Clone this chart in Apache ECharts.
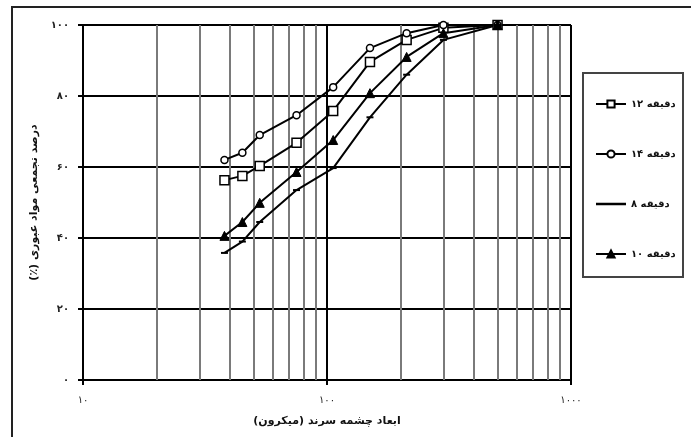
<!DOCTYPE html>
<html dir="ltr">
<head>
<meta charset="utf-8">
<script src="https://cdn.jsdelivr.net/npm/echarts@6/dist/echarts.min.js"></script>
<style>
  html, body { margin: 0; padding: 0; background: #fff; }
  #chart { width: 691px; height: 437px; }
</style>
</head>
<body>
<div id="chart"></div>
<script>
// Sieve opening sizes (microns) and cumulative passing percentages per grinding time
const sieveSizes = [38, 45, 53, 75, 106, 150, 212, 300, 500];
const min12 = [56.3, 57.5, 60.3, 66.8, 75.8, 89.6, 95.8, 99.2, 100];
const min14 = [62.0, 64.0, 69.0, 74.6, 82.5, 93.5, 97.7, 100, 100];
const min8  = [35.8, 39.0, 44.5, 53.5, 59.7, 74.0, 86.0, 95.8, 100];
const min10 = [40.6, 44.5, 49.9, 58.6, 67.6, 80.8, 91.0, 97.7, 100];

const seriesNames = ['دقیقه ۱۲', 'دقیقه ۱۴', 'دقیقه ۸', 'دقیقه ۱۰'];

// Axis tick labels (Persian digits)
const yTickValues = [0, 20, 40, 60, 80, 100];
const yTickLabels = ['۰', '۲۰', '۴۰', '۶۰', '۸۰', '۱۰۰'];
const xTickValues = [10, 100, 1000];
const xTickLabels = ['۱۰', '۱۰۰', '۱۰۰۰'];
// Intermediate decade lines of the logarithmic grid
const xMinorGrid = [20, 30, 40, 50, 60, 70, 80, 90, 200, 300, 400, 500, 600, 700, 800, 900];

// Right-to-left marks keep the parentheses on the correct side
const RLM = '\u200F';
const xAxisTitle = RLM + 'ابعاد چشمه سرند (میکرون)' + RLM;
const yAxisTitle = RLM + 'درصد تجمعی مواد عبوری (٪)' + RLM;

const FONT = 'DejaVu Sans';

// Plain thick bar used as the legend key of the marker-less series
const PLAIN_LINE_ICON = 'path://M0,0L0.01,0Z M0,3.3L30,3.3L30,5.7L0,5.7Z M0,9L0.01,9Z';

function pairs(ys) {
  return sieveSizes.map((x, i) => [x, ys[i]]);
}

const lineBase = {
  type: 'line',
  showAllSymbol: true,
  lineStyle: { color: '#000', width: 2 },
  z: 3
};

const chart = echarts.init(document.getElementById('chart'), null, { renderer: 'canvas' });

chart.setOption({
  animation: false,
  backgroundColor: '#fff',
  textStyle: { fontFamily: FONT },
  grid: { left: 83, top: 25, width: 488, height: 355, containLabel: false },
  xAxis: {
    type: 'log',
    logBase: 10,
    min: 10,
    max: 1000,
    name: xAxisTitle,
    nameLocation: 'middle',
    nameGap: 36,
    nameTextStyle: { fontFamily: FONT, fontSize: 11, fontWeight: 'bold', color: '#111' },
    axisLine: { show: true, lineStyle: { color: '#000', width: 2 } },
    axisTick: { show: true, length: 5, lineStyle: { color: '#000', width: 2 } },
    axisLabel: {
      fontFamily: FONT, fontSize: 10, color: '#222', margin: 15,
      formatter: v => {
        const i = xTickValues.findIndex(t => Math.abs(t - v) < 1e-6 * t);
        return i >= 0 ? xTickLabels[i] : '';
      }
    },
    splitLine: { show: true, lineStyle: { color: '#000', width: 2 } }
  },
  yAxis: {
    type: 'value',
    min: 0,
    max: 100,
    interval: 20,
    name: yAxisTitle,
    nameLocation: 'middle',
    nameRotate: 90,
    nameGap: 40,
    nameTextStyle: { fontFamily: FONT, fontSize: 11, fontWeight: 'bold', color: '#111' },
    axisLine: { show: true, lineStyle: { color: '#000', width: 2 } },
    axisTick: { show: true, length: 5, lineStyle: { color: '#000', width: 2 } },
    axisLabel: {
      fontFamily: FONT, fontSize: 10, fontWeight: 'bold', color: '#222', margin: 14,
      formatter: v => {
        const i = yTickValues.indexOf(v);
        return i >= 0 ? yTickLabels[i] : '';
      }
    },
    splitLine: { show: true, lineStyle: { color: '#000', width: 2 } }
  },
  legend: {
    orient: 'vertical',
    left: 590,
    top: 94,
    itemWidth: 30,
    itemHeight: 9,
    itemGap: 40,
    data: [
      seriesNames[0],
      seriesNames[1],
      { name: seriesNames[2], icon: PLAIN_LINE_ICON, itemStyle: { color: '#000', borderWidth: 0 } },
      seriesNames[3]
    ],
    textStyle: { fontFamily: FONT, fontSize: 10, fontWeight: 'bold', color: '#111' },
    inactiveColor: '#000'
  },
  graphic: [
    {
      type: 'rect',
      shape: { x: 12, y: 7, width: 700, height: 450 },
      style: { fill: 'none', stroke: '#222', lineWidth: 2 },
      silent: true, z: 0
    },
    {
      type: 'rect',
      shape: { x: 583, y: 73, width: 100, height: 204 },
      style: { fill: 'none', stroke: '#444', lineWidth: 2 },
      silent: true, z: 0
    }
  ],
  series: [
    Object.assign({}, lineBase, {
      name: seriesNames[0],
      data: pairs(min12),
      symbol: 'rect',
      symbolSize: 9,
      itemStyle: { color: '#fff', borderColor: '#000', borderWidth: 1.5 },
      markLine: {
        silent: true,
        symbol: 'none',
        label: { show: false },
        lineStyle: { color: '#7a7a7a', width: 2, type: 'solid' },
        data: xMinorGrid.map(v => ({ xAxis: v })),
        z: 1
      }
    }),
    Object.assign({}, lineBase, {
      name: seriesNames[1],
      data: pairs(min14),
      symbol: 'circle',
      symbolSize: 7,
      itemStyle: { color: '#fff', borderColor: '#000', borderWidth: 1.5 }
    }),
    Object.assign({}, lineBase, {
      name: seriesNames[2],
      data: pairs(min8),
      symbol: 'rect',
      symbolSize: [7, 2],
      itemStyle: { color: '#000', borderColor: '#000', borderWidth: 0 }
    }),
    Object.assign({}, lineBase, {
      name: seriesNames[3],
      data: pairs(min10),
      symbol: 'triangle',
      symbolSize: 9,
      itemStyle: { color: '#000', borderColor: '#000', borderWidth: 1 }
    })
  ]
});
</script>
</body>
</html>
